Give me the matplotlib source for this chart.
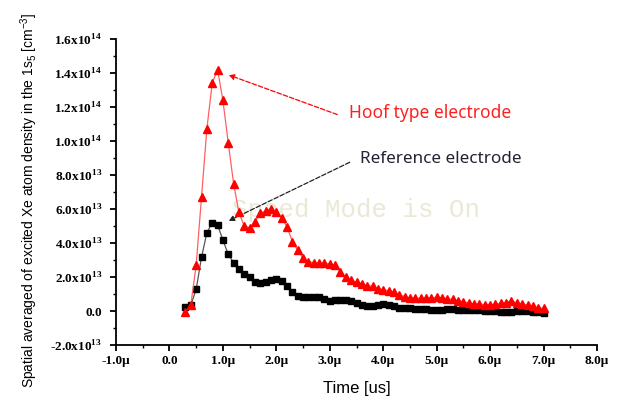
import numpy as np
import matplotlib.pyplot as plt
from matplotlib.ticker import FixedLocator, MultipleLocator

plt.rcParams['mathtext.fontset'] = 'custom'
plt.rcParams['mathtext.rm'] = 'Liberation Serif:bold'
plt.rcParams['mathtext.bf'] = 'Liberation Serif:bold'
plt.rcParams['mathtext.sf'] = 'Liberation Sans'

# temps en microsecondes
temps = [0.3, 0.4, 0.5, 0.6, 0.7, 0.8, 0.9, 1.0, 1.1, 1.2, 1.3, 1.4, 1.5, 1.6, 1.7,
         1.8, 1.9, 2.0, 2.1, 2.2, 2.3, 2.4, 2.5, 2.6, 2.7, 2.8, 2.9, 3.0, 3.1, 3.2,
         3.3, 3.4, 3.5, 3.6, 3.7, 3.8, 3.9, 4.0, 4.1, 4.2, 4.3, 4.4, 4.5, 4.6, 4.7,
         4.8, 4.9, 5.0, 5.1, 5.2, 5.3, 5.4, 5.5, 5.6, 5.7, 5.8, 5.9, 6.0, 6.1, 6.2,
         6.3, 6.4, 6.5, 6.6, 6.7, 6.8, 6.9, 7.0]

# densite (x1e13 cm-3)
hoof = [-0.05, 0.35, 2.7, 6.7, 10.7, 13.4, 14.2, 12.4, 9.9, 7.5, 5.8, 5.0, 4.9, 5.25, 5.75,
        5.9, 6.0, 5.85, 5.45, 4.96, 4.08, 3.59, 3.1, 2.9, 2.85, 2.8, 2.8, 2.76, 2.7, 2.3,
        2.0, 1.8, 1.7, 1.6, 1.5, 1.45, 1.3, 1.25, 1.2, 1.1, 0.95, 0.85, 0.78, 0.76, 0.75,
        0.76, 0.78, 0.8, 0.78, 0.72, 0.68, 0.6, 0.55, 0.48, 0.42, 0.4, 0.38, 0.37, 0.4, 0.45,
        0.5, 0.6, 0.48, 0.42, 0.35, 0.28, 0.2, 0.15]
ref = [0.25, 0.35, 1.27, 3.16, 4.6, 5.2, 5.06, 4.18, 3.33, 2.84, 2.5, 2.2, 1.98, 1.72, 1.66,
       1.7, 1.82, 1.86, 1.76, 1.47, 1.14, 0.9, 0.84, 0.84, 0.85, 0.82, 0.7, 0.6, 0.62, 0.65,
       0.62, 0.58, 0.45, 0.35, 0.27, 0.3, 0.36, 0.4, 0.37, 0.27, 0.2, 0.18, 0.16, 0.14, 0.12,
       0.1, 0.06, 0.06, 0.08, 0.09, 0.09, 0.08, 0.07, 0.06, 0.05, 0.04, 0.02, 0.0, -0.02, -0.04,
       -0.04, -0.03, -0.02, 0.0, 0.0, -0.04, -0.08, -0.1]

xticks = [-1, 0, 1, 2, 3, 4, 5, 6, 7, 8]
xlabels = ['-1.0\u00b5', '0.0', '1.0\u00b5', '2.0\u00b5', '3.0\u00b5', '4.0\u00b5',
           '5.0\u00b5', '6.0\u00b5', '7.0\u00b5', '8.0\u00b5']
yticks = [-2e13, 0, 2e13, 4e13, 6e13, 8e13, 1e14, 1.2e14, 1.4e14, 1.6e14]
ylabels = ['-2.0x10$^{13}$', '0.0', '2.0x10$^{13}$', '4.0x10$^{13}$', '6.0x10$^{13}$',
           '8.0x10$^{13}$', '1.0x10$^{14}$', '1.2x10$^{14}$', '1.4x10$^{14}$', '1.6x10$^{14}$']

t = np.array(temps)
h = np.array(hoof) * 1e13
r = np.array(ref) * 1e13

fig = plt.figure(figsize=(6.2, 4.12), dpi=100)
ax = fig.add_axes([116/620, 1-345/412, 481/620, 306/412])

# filigrane
ax.text(3.49, 5.95e13, 'Speed Mode is On', family='Liberation Mono', fontsize=18.5,
        color='#ebe8d6', ha='center', va='center', zorder=0)

ax.plot(t, r, color='#555555', lw=0.9, marker='s', ms=4.8, mfc='black', mec='black', zorder=3)
ax.plot(t, h, color='#ff6060', lw=0.9, marker='^', ms=5.5, mfc='red', mec='red', zorder=4)

ax.set_xlim(-1, 8)
ax.set_ylim(-2e13, 1.6e14)
ax.xaxis.set_major_locator(FixedLocator(xticks))
ax.yaxis.set_major_locator(FixedLocator(yticks))
ax.xaxis.set_minor_locator(MultipleLocator(0.5))
ax.yaxis.set_minor_locator(MultipleLocator(1e13))
ax.set_xticklabels(xlabels, family='Liberation Serif', weight='bold', fontsize=9.5)
ax.set_yticklabels(ylabels, family='Liberation Serif', weight='bold', fontsize=9.5)

for s in ['top', 'right']:
    ax.spines[s].set_visible(False)
for s in ['left', 'bottom']:
    ax.spines[s].set_linewidth(1.3)
ax.tick_params(which='major', direction='out', length=4, width=1.3)
ax.tick_params(which='minor', direction='out', length=2.5, width=1.0)
ax.tick_params(axis='y', pad=6)

ax.set_xlabel('Time [us]', family='Liberation Sans', fontsize=12, labelpad=10)
ax.set_ylabel('Spatial averaged of excited Xe atom density in the 1s$_\\mathsf{5}$ [cm$^\\mathsf{-3}$]',
              family='Liberation Sans', fontsize=10)
ax.yaxis.set_label_coords(-0.158, 0.474)

# annotations
ax.annotate('', xy=(1.06, 13.94e13), xytext=(3.19, 11.5e13),
            arrowprops=dict(arrowstyle='-|>', color='red', lw=0.9, ls='--', mutation_scale=8))
ax.annotate('', xy=(1.06, 5.23e13), xytext=(3.42, 8.82e13),
            arrowprops=dict(arrowstyle='-|>', color='#222222', lw=0.9, ls='--', mutation_scale=8))
ax.text(3.36, 11.64e13, 'Hoof type electrode', color='#ff2020', family='Noto Sans',
        fontsize=12.5, va='center', ha='left')
ax.text(3.57, 8.94e13, 'Reference electrode', color='#222233', family='Noto Sans',
        fontsize=12.3, va='center', ha='left')

plt.savefig('out.png', dpi=100)
